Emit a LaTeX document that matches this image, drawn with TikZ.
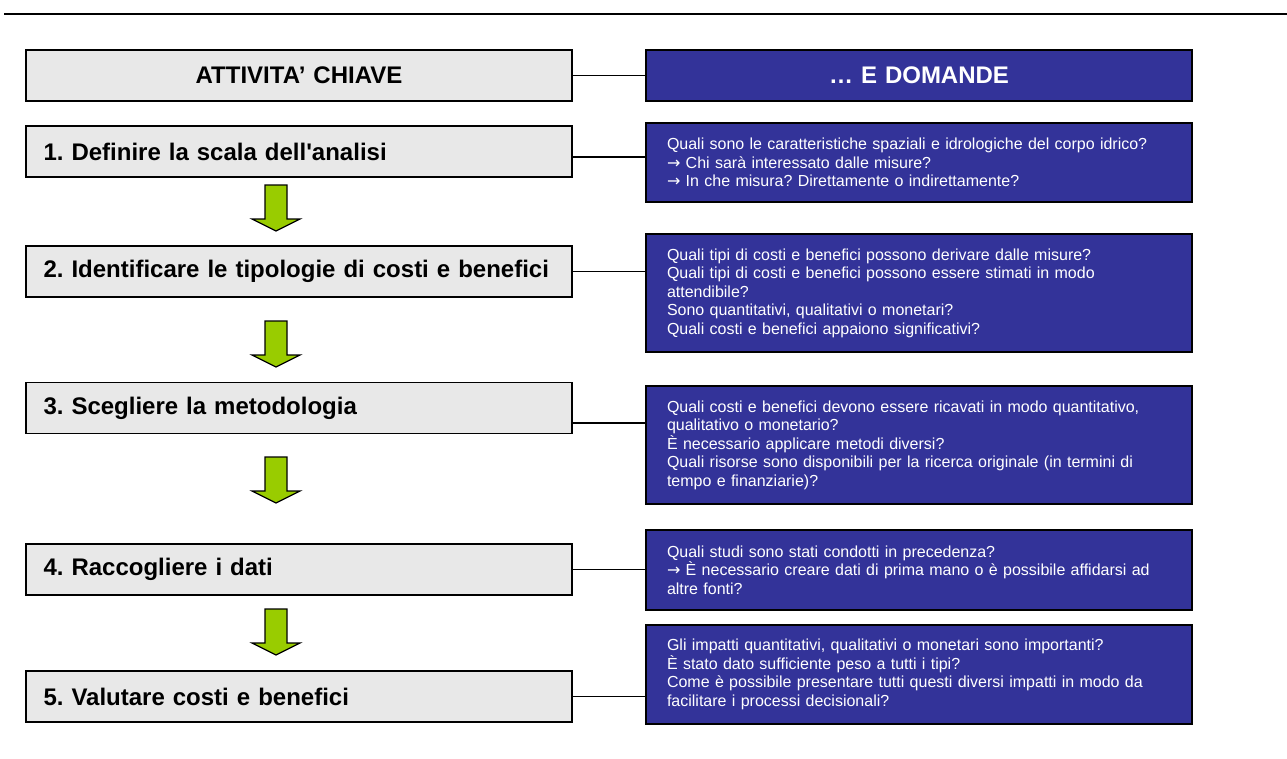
\documentclass[tikz,border=0pt]{standalone}
\usepackage{fontspec}
\setmainfont{Liberation Sans}
\newfontfamily\plainfont{Liberation Sans}
\newfontfamily\arrowfont{DejaVu Sans}
\usepackage{tikz}
\usetikzlibrary{positioning}
\definecolor{stepgrey}{RGB}{232,232,232}
\definecolor{askblue}{RGB}{51,51,153}
\definecolor{arrowgreen}{RGB}{153,204,0}
\newcommand{\goto}{{\arrowfont →}}
\frenchspacing

\begin{document}
\begin{tikzpicture}[
			x=1pt,y=-1pt,
			stepbox/.style={draw=black,line width=1.5pt,fill=stepgrey,minimum width=546pt,minimum height=51pt,
				inner xsep=17.5pt,text width=511pt,align=left,font=\plainfont\fontsize{24}{28}\selectfont\bfseries},
			askbox/.style={draw=black,line width=1.8pt,fill=askblue,text=white,minimum width=546pt,
				inner xsep=21pt,text width=504pt,align=left,font=\plainfont\fontsize{16}{18.5}\selectfont},
			link/.style={line width=1.4pt},
			downarrow/.style={draw=black,line width=1.2pt,fill=arrowgreen,line join=miter}
			]
			\def\lx{299}
			\def\rx{919}
			\def\ax{276}

			\useasboundingbox (0,0) rectangle (1287,758);
			\draw[line width=2.8pt] (4,14) -- (1287,14);

			\node[stepbox,align=center] (head) at (\lx,75.5) {ATTIVITA’ CHIAVE};
			\node[askbox,align=center,minimum height=51pt,font=\plainfont\fontsize{24}{28}\selectfont\bfseries] (ask) at (\rx,75.5) {… E DOMANDE};

			\node[stepbox] (s1) at (\lx,151.5) {1. Definire la scala dell'analisi};
			\node[stepbox] (s2) at (\lx,271.5) {2. Identificare le tipologie di costi e benefici};
			\node[stepbox] (s3) at (\lx,408) {3. Scegliere la metodologia};
			\node[stepbox] (s4) at (\lx,569.5) {4. Raccogliere i dati};
			\node[stepbox] (s5) at (\lx,696.5) {5. Valutare costi e benefici};

			\node[askbox,minimum height=79pt] (q1) at (\rx,162.5) {Quali sono le caratteristiche spaziali e idrologiche del corpo idrico?\\
				\goto{} Chi sarà interessato dalle misure?\\
				\goto{} In che misura? Direttamente o indirettamente?};
			\node[askbox,minimum height=118pt] (q2) at (\rx,293) {Quali tipi di costi e benefici possono derivare dalle misure?\\
				Quali tipi di costi e benefici possono essere stimati in modo\\
				attendibile?\\
				Sono quantitativi, qualitativi o monetari?\\
				Quali costi e benefici appaiono significativi?};
			\node[askbox,minimum height=118pt] (q3) at (\rx,445) {Quali costi e benefici devono essere ricavati in modo quantitativo,\\
				qualitativo o monetario?\\
				È necessario applicare metodi diversi?\\
				Quali risorse sono disponibili per la ricerca originale (in termini di\\
				tempo e finanziarie)?};
			\node[askbox,minimum height=80pt] (q4) at (\rx,570) {Quali studi sono stati condotti in precedenza?\\
				\goto{} È necessario creare dati di prima mano o è possibile affidarsi ad\\
				altre fonti?};
			\node[askbox,minimum height=99pt] (q5) at (\rx,674.5) {Gli impatti quantitativi, qualitativi o monetari sono importanti?\\
				È stato dato sufficiente peso a tutti i tipi?\\
				Come è possibile presentare tutti questi diversi impatti in modo da\\
				facilitare i processi decisionali?};

			\coordinate (j1) at ([yshift=-5.5pt]s1.east);
			\coordinate (j3) at ([yshift=-15pt]s3.east);
			\draw[link] (head.east) -- (ask.west);
			\draw[link] (j1) -- (j1 -| q1.west);
			\draw[link] (s2.east) -- (s2.east -| q2.west);
			\draw[link] (j3) -- (j3 -| q3.west);
			\draw[link] (s4.east) -- (s4.east -| q4.west);
			\draw[link] (s5.east) -- (s5.east -| q5.west);

			\foreach \t in {185,321,457,609}
				\draw[downarrow] (\ax-11,\t) -- (\ax+11,\t) -- (\ax+11,\t+34) -- (\ax+24,\t+34)
					-- (\ax,\t+46) -- (\ax-24,\t+34) -- (\ax-11,\t+34) -- cycle;

			\end{tikzpicture}
\end{document}
